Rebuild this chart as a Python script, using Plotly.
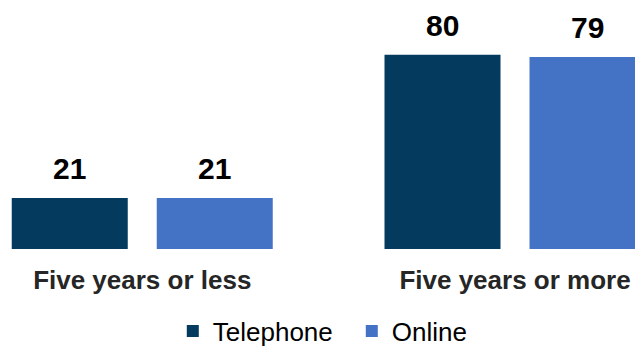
import plotly.graph_objects as go

categories = ["Five years or less", "Five years or more"]
telephone = [21, 80]
online = [21, 79]
series_names = ["Telephone", "Online"]
colors = ["#033A5D", "#4472C4"]

fig = go.Figure()
for name, vals, col in zip(series_names, [telephone, online], colors):
    fig.add_trace(go.Bar(name=name, x=categories, y=vals, marker_color=col,
                         marker_line_width=0))

# data labels
offsets = [-0.1945, 0.1945]
for vals, off in zip([telephone, online], offsets):
    for i, v in enumerate(vals):
        fig.add_annotation(x=i + off, y=v, text=f"<b>{v}</b>", showarrow=False,
                           yanchor="bottom", yshift=11, xref="x", yref="y",
                           font=dict(family="Liberation Sans, Arial", size=30, color="#000000"))

fig.update_layout(
    width=635, height=347,
    margin=dict(l=0, r=0, t=0, b=98),
    plot_bgcolor="white", paper_bgcolor="white",
    barmode="group", bargap=0.222, bargroupgap=0.2,
    showlegend=True,
    legend=dict(orientation="h", x=0.554, xanchor="center", xref="container",
                y=0.046, yanchor="middle", yref="container",
                entrywidth=134, entrywidthmode="pixels",
                font=dict(family="Liberation Sans, Arial", size=26, color="#000000"),
                traceorder="normal"),
    xaxis=dict(range=[-0.3816, 1.3219], showline=False, ticks="", automargin=False,
               tickfont=dict(family="Liberation Sans, Arial", size=26, color="#262626"),
               ticklabelstandoff=13,
               tickvals=categories,
               ticktext=[f"<b>{c}</b>" for c in categories]),
    yaxis=dict(range=[0, 102.5], visible=False, showgrid=False, zeroline=False),
)

fig.write_html("out.html", post_script="document.body.style.margin='0';",
               config={"displayModeBar": False})
